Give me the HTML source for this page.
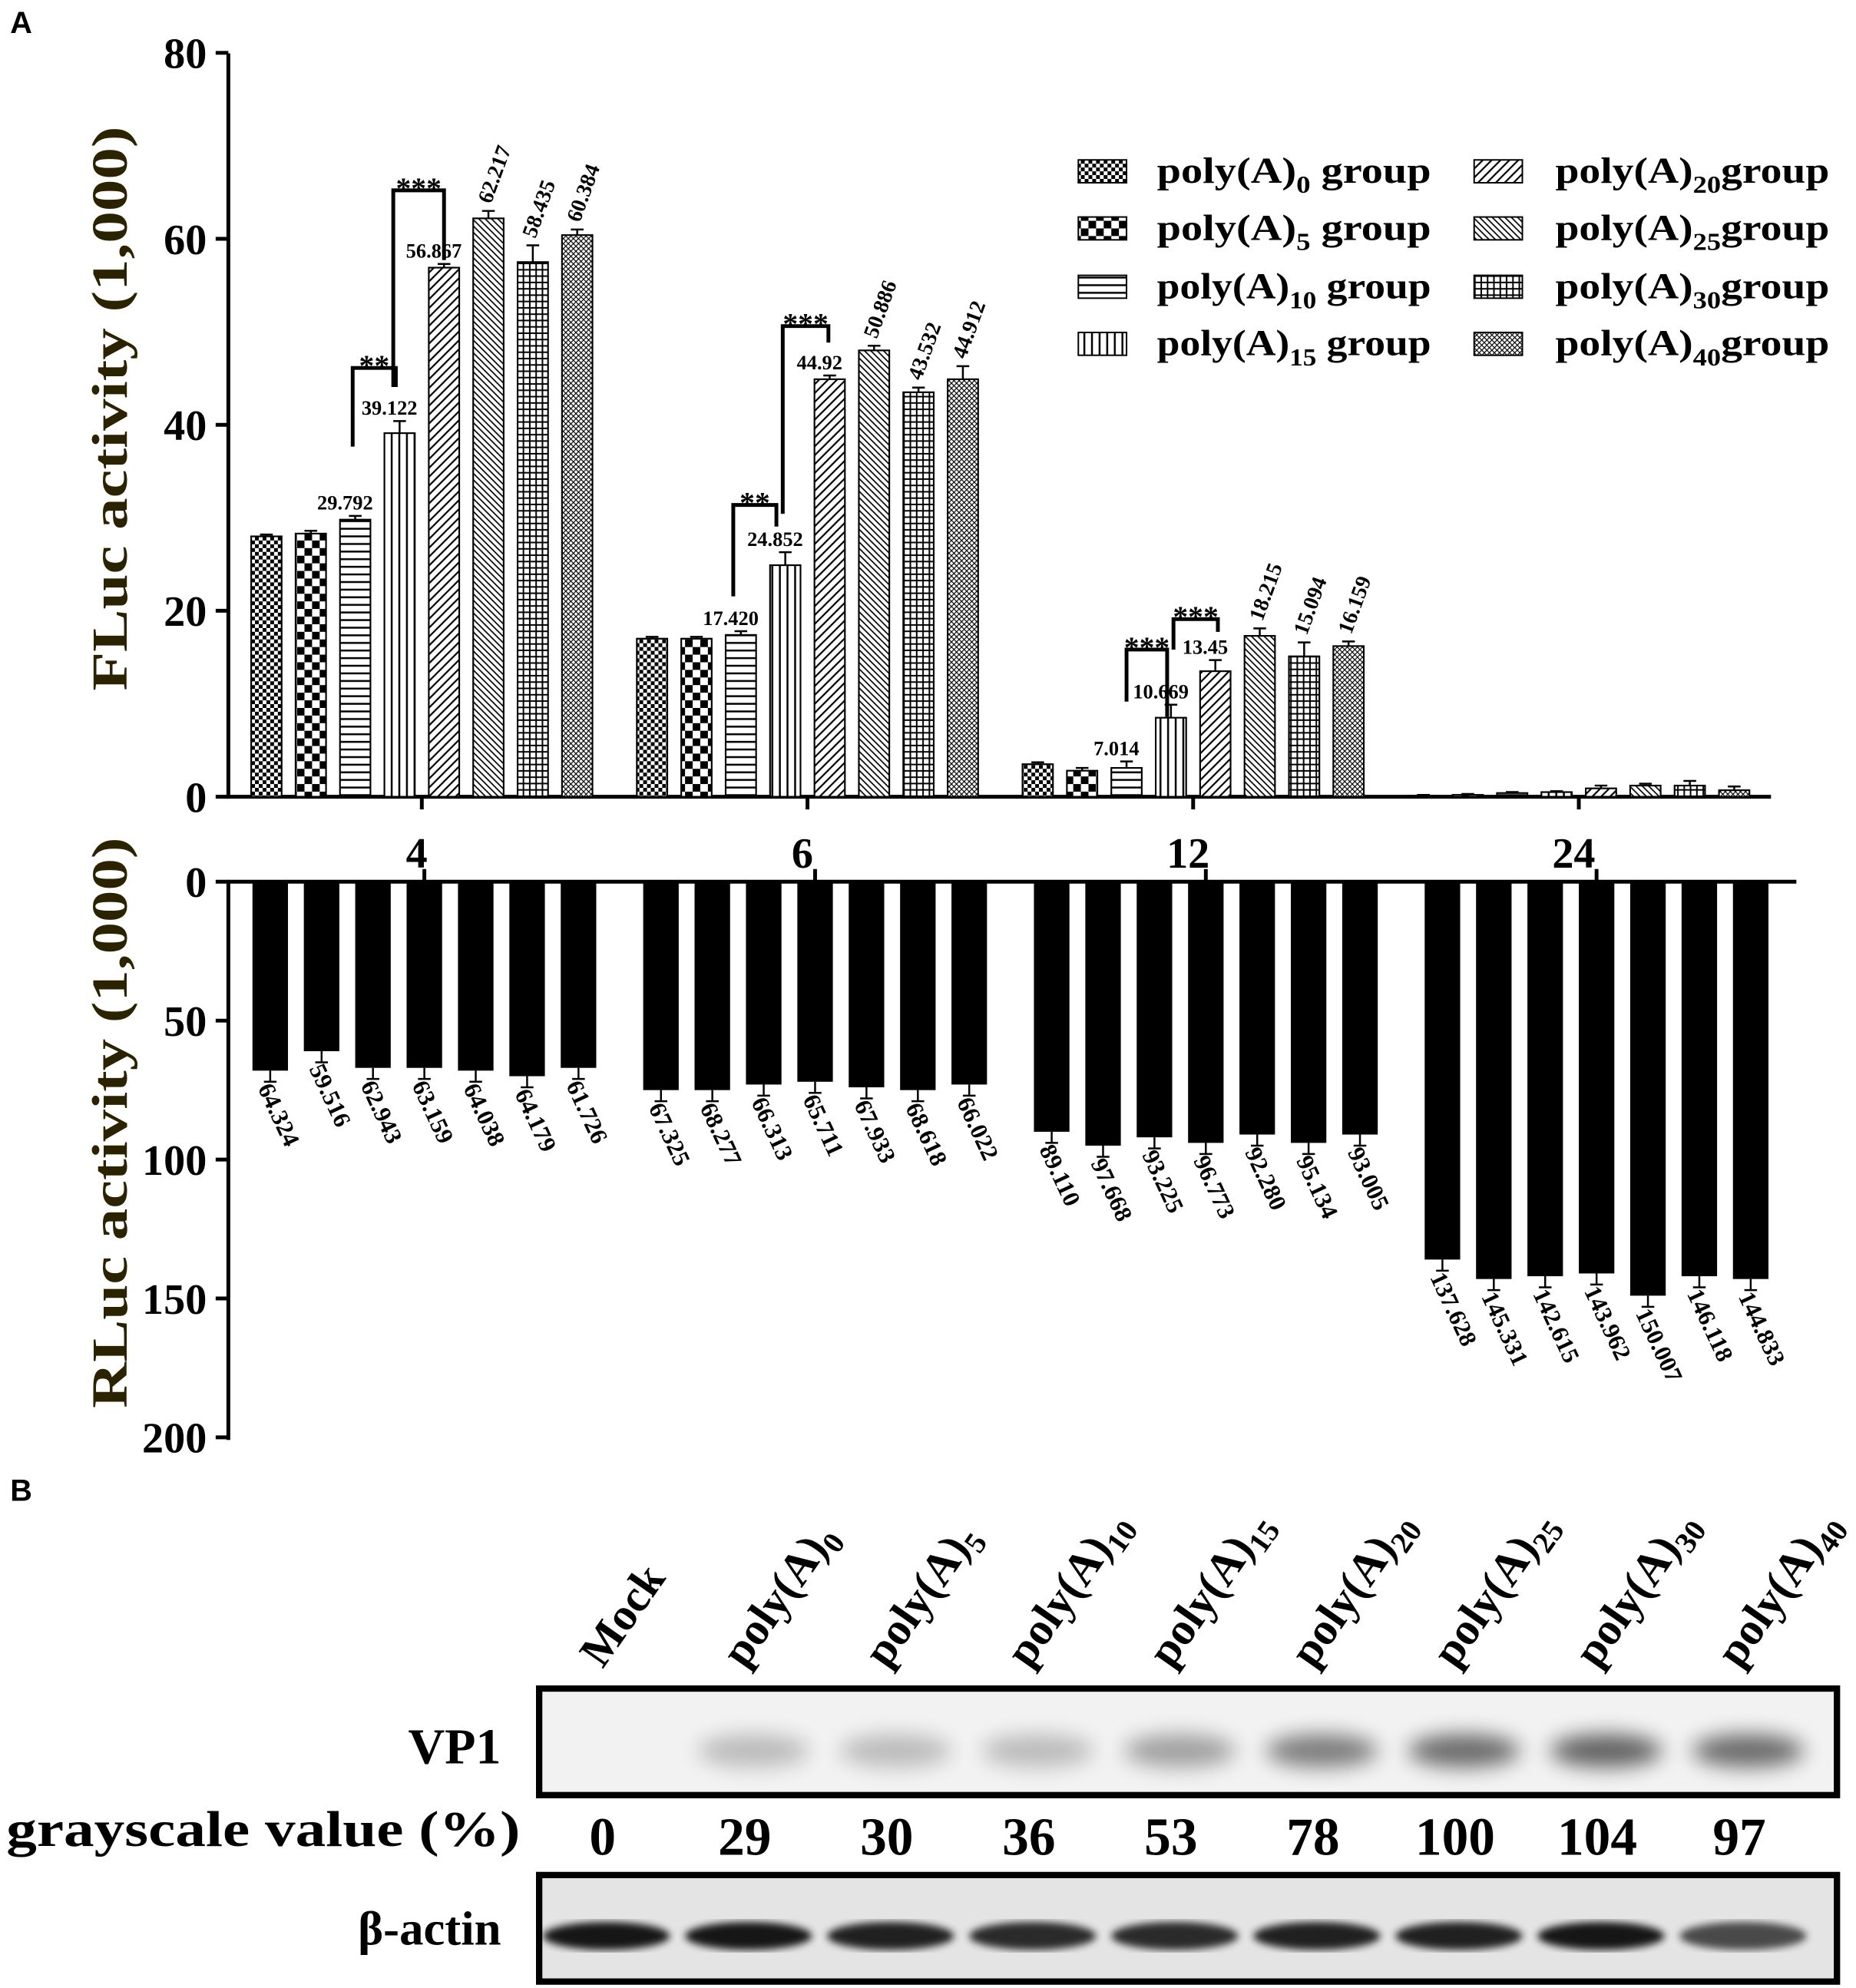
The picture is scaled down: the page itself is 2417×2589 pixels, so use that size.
<!DOCTYPE html>
<html><head><meta charset="utf-8"><style>html,body{margin:0;padding:0;background:#fff}svg{display:block}</style></head>
<body>
<svg id="c" width="2417" height="2589" viewBox="0 0 1463 1567" xmlns="http://www.w3.org/2000/svg" font-family="'Liberation Serif',serif" font-weight="bold">
<defs>
<pattern id="p0" width="6" height="6" patternUnits="userSpaceOnUse"><rect width="6" height="6" fill="#fff"/><rect width="3" height="3" fill="#000"/><rect x="3" y="3" width="3" height="3" fill="#000"/></pattern>
<pattern id="p1" width="12" height="12" patternUnits="userSpaceOnUse"><rect width="12" height="12" fill="#fff"/><rect width="6" height="6" fill="#000"/><rect x="6" y="6" width="6" height="6" fill="#000"/></pattern>
<pattern id="p2" width="6" height="6" patternUnits="userSpaceOnUse"><rect width="6" height="6" fill="#fff"/><rect y="2" width="6" height="1.5" fill="#000"/></pattern>
<pattern id="p3" width="6" height="6" patternUnits="userSpaceOnUse"><rect width="6" height="6" fill="#fff"/><rect x="2" width="1.5" height="6" fill="#000"/></pattern>
<pattern id="p4" width="7" height="7" patternUnits="userSpaceOnUse"><rect width="7" height="7" fill="#fff"/><path d="M-1,8 L8,-1" stroke="#000" stroke-width="1.3"/><path d="M-1,1 L1,-1 M6,8 L8,6" stroke="#000" stroke-width="1.3"/></pattern>
<pattern id="p5" width="5" height="5" patternUnits="userSpaceOnUse"><rect width="5" height="5" fill="#fff"/><path d="M-1,-1 L6,6 M-1,4 L1,6 M4,-1 L6,1" stroke="#000" stroke-width="1"/></pattern>
<pattern id="p6" width="5" height="5" patternUnits="userSpaceOnUse"><rect width="5" height="5" fill="#fff"/><rect y="2" width="5" height="1.2" fill="#000"/><rect x="2" width="1.2" height="5" fill="#000"/></pattern>
<pattern id="p7" width="4" height="4" patternUnits="userSpaceOnUse"><rect width="4" height="4" fill="#fff"/><path d="M-1,5 L5,-1 M-1,-1 L5,5" stroke="#000" stroke-width="0.7"/></pattern>
<filter id="blur" x="-50%" y="-100%" width="200%" height="300%"><feGaussianBlur stdDeviation="8"/></filter>
<filter id="blur2"><feGaussianBlur stdDeviation="3"/></filter>
</defs>
<g id="top"></g><g id="bot"></g><g id="blot"></g>
</svg>
<script>
const NS="http://www.w3.org/2000/svg";
const groups=["4","6","12","24"];
const fVals=[[28,28.3,29.8,39.1,56.9,62.2,57.5,60.4],[17,17,17.4,24.9,44.9,48,43.5,44.9],[3.5,2.8,3.1,8.5,13.5,17.3,15.1,16.2],[0.1,0.2,0.4,0.5,0.9,1.2,1.2,0.7]];
const fErr=[[0.2,0.3,0.4,1.3,0.4,0.8,1.8,0.6],[0.2,0.2,0.4,1.4,0.4,0.5,0.5,1.4],[0.2,0.3,0.7,1.4,1.2,0.8,1.5,0.5],[0.1,0.1,0.1,0.1,0.3,0.2,0.5,0.4]];
const fLabels=[["","","29.792","39.122","56.867","62.217","58.435","60.384"],["","","17.420","24.852","44.92","50.886","43.532","44.912"],["","","7.014","10.669","13.45","18.215","15.094","16.159"],["","","","","","","",""]];
const rVals=[[68,61,67,67,68,70,67],[75,75,73,72,74,75,73],[90,95,92,94,91,94,91],[136,143,142,141,149,142,143]];
const rLabels=[["64.324","59.516","62.943","63.159","64.038","64.179","61.726"],["67.325","68.277","66.313","65.711","67.933","68.618","66.022"],["89.110","97.668","93.225","96.773","92.280","95.134","93.005"],["137.628","145.331","142.615","143.962","150.007","146.118","144.833"]];
const fTicks=[0,20,40,60,80], rTicks=[0,50,100,150,200];
const legendNames=["0","5","10","15","20","25","30","40"];
const lanes=["Mock","0","5","10","15","20","25","30","40"];
const gray=["0","29","30","36","53","78","100","104","97"];
const vp1Int=[0,0.3,0.3,0.3,0.45,0.65,0.75,0.8,0.75];
const actInt=[1,1,0.95,0.9,0.9,0.95,0.95,1,0.75];
function el(p,t,a,txt){const e=document.createElementNS(NS,t);for(const k in a)e.setAttribute(k,a[k]);if(txt!==undefined)e.textContent=txt;p.appendChild(e);return e;}
const T=document.getElementById('top'),B=document.getElementById('bot'),W=document.getElementById('blot');
const fy=v=>628-v*7.33, ry=v=>695+v*2.19;
const fx=(g,i)=>210+g*304+i*35, rx=(g,i)=>213+g*308+i*40.5;
let e;
e=el(T,'text',{x:8,y:26,'font-family':"'Liberation Sans',sans-serif",'font-size':24},'A');

e=el(T,'line',{x1:180,y1:42,x2:180,y2:629,stroke:'#000','stroke-width':3});

e=el(T,'line',{x1:179,y1:628,x2:1396,y2:628,stroke:'#000','stroke-width':3});

fTicks.forEach(t=>{el(T,'line',{x1:170,x2:180,y1:fy(t),y2:fy(t),stroke:'#000','stroke-width':3});
 e=el(T,'text',{x:163,y:fy(t)+12,'text-anchor':'end','font-size':34},String(t));
 });
e=el(T,'text',{transform:'translate(100,322) rotate(-90)','text-anchor':'middle','font-size':40,fill:'#2b2200',textLength:445,lengthAdjust:'spacingAndGlyphs'},'FLuc activity  (1,000)');

fVals.forEach((gv,g)=>{gv.forEach((v,i)=>{const x=fx(g,i);
 e=el(T,'rect',{x:x-12,y:fy(v),width:24,height:628-fy(v),fill:'url(#p'+i+')',stroke:'#000','stroke-width':1.3});
 
 const et=fy(v+fErr[g][i]);el(T,'line',{x1:x,x2:x,y1:fy(v),y2:et,stroke:'#000','stroke-width':1.5});el(T,'line',{x1:x-5,x2:x+5,y1:et,y2:et,stroke:'#000','stroke-width':1.5});
 const lb=fLabels[g][i];if(lb){const ly=et-5;
  if(i<5){e=el(T,'text',{x:x-8,y:ly,'text-anchor':'middle','font-size':16},lb);}
  else{e=el(T,'text',{transform:`translate(${x+2},${ly}) rotate(-70)`,'font-size':17},lb);}
  }
 });
 el(T,'line',{x1:fx(g,3.5),x2:fx(g,3.5),y1:628,y2:638,stroke:'#000','stroke-width':3});
});
[[278,312,352,305,290,'**'],[310,350,305,205,150,'***'],[578,612,470,415,398,'**'],[617,653,405,270,257,'***'],[888,920,553,565,512,'***'],[925,960,512,498,488,'***']].forEach(b=>{
 e=el(T,'path',{d:`M${b[0]},${b[2]} V${b[4]} H${b[1]} V${b[3]}`,fill:'none',stroke:'#000','stroke-width':3});
 
 el(T,'text',{x:(b[0]+b[1])/2,y:b[4]+6,'text-anchor':'middle','font-size':24},b[5]);});
groups.forEach((gl,g)=>{e=el(T,'text',{x:fx(g,3.5)-4,y:684,'text-anchor':'middle','font-size':34},gl);
 });
legendNames.forEach((n,i)=>{const col=Math.floor(i/4),row=i%4;const x=col?1162:850,y=[135,180,226,271][row];
 const lg=el(T,'g',{});
 el(lg,'rect',{x:x,y:y-9,width:38,height:18,fill:'url(#p'+i+')',stroke:'#000','stroke-width':1.2});
 const t=el(lg,'text',{x:col?1226:912,y:y+9,'font-size':29});
 t.appendChild(document.createTextNode('poly(A)'));el(t,'tspan',{dy:8,'font-size':19},n);el(t,'tspan',{dy:-8},col?'group':' group');
 t.setAttribute('textLength',216);t.setAttribute('lengthAdjust','spacingAndGlyphs');});
e=el(B,'line',{x1:180,y1:695,x2:180,y2:1135,stroke:'#000','stroke-width':3});

e=el(B,'line',{x1:179,y1:695,x2:1416,y2:695,stroke:'#000','stroke-width':3});

rTicks.forEach(t=>{el(B,'line',{x1:170,x2:180,y1:ry(t),y2:ry(t),stroke:'#000','stroke-width':3});
 e=el(B,'text',{x:163,y:ry(t)+12,'text-anchor':'end','font-size':34},String(t));
 });
e=el(B,'text',{transform:'translate(100,885) rotate(-90)','text-anchor':'middle','font-size':40,fill:'#2b2200',textLength:450,lengthAdjust:'spacingAndGlyphs'},'RLuc activity  (1,000)');

rVals.forEach((gv,g)=>{gv.forEach((v,i)=>{const x=rx(g,i);
 e=el(B,'rect',{x:x-14,y:695,width:28,height:ry(v)-695,fill:'#000'});
 
 const eb=ry(v+4);el(B,'line',{x1:x,x2:x,y1:ry(v),y2:eb,stroke:'#000','stroke-width':1.5});el(B,'line',{x1:x-5,x2:x+5,y1:eb,y2:eb,stroke:'#000','stroke-width':1.5});
 e=el(B,'text',{transform:`translate(${x-10},${eb+5}) rotate(65)`,'font-size':19},rLabels[g][i]);
 
 });
 el(B,'line',{x1:rx(g,3),x2:rx(g,3),y1:685,y2:695,stroke:'#000','stroke-width':3});
});
e=el(W,'text',{x:8,y:1183,'font-family':"'Liberation Sans',sans-serif",'font-size':24},'B');

const lx=i=>490+i*112;
lanes.forEach((n,i)=>{const t=el(W,'text',{transform:`translate(${lx(i)-15},1316) rotate(-55)`,'font-size':36});
 
 if(i==0)t.textContent='Mock';else{t.appendChild(document.createTextNode('poly(A)'));el(t,'tspan',{dy:8,'font-size':24},n);}
 e=el(W,'text',{x:lx(i)-15,y:1462,'text-anchor':'middle','font-size':42},gray[i]);
 });
e=el(W,'rect',{x:425,y:1331,width:1023,height:84,fill:'#f2f2f2',stroke:'#000','stroke-width':5});

vp1Int.forEach((v,i)=>{if(v>0){e=el(W,'ellipse',{cx:lx(i)-8,cy:1380,rx:44,ry:13,fill:'#000',opacity:v*0.75,filter:'url(#blur)'});
 }});
e=el(W,'rect',{x:425,y:1478,width:1023,height:84,fill:'#e4e4e4',stroke:'#000','stroke-width':5});

actInt.forEach((v,i)=>{e=el(W,'ellipse',{cx:lx(i)-12,cy:1526,rx:50,ry:11,fill:'#000',opacity:v*0.9,filter:'url(#blur2)'});
 });
e=el(W,'text',{x:395,y:1390,'text-anchor':'end','font-size':40},'VP1');

e=el(W,'text',{x:5,y:1455,'font-size':40,textLength:405,lengthAdjust:'spacingAndGlyphs'},'grayscale value (%)');

e=el(W,'text',{x:395,y:1533,'text-anchor':'end','font-size':38},'β-actin');

</script>
</body></html>
